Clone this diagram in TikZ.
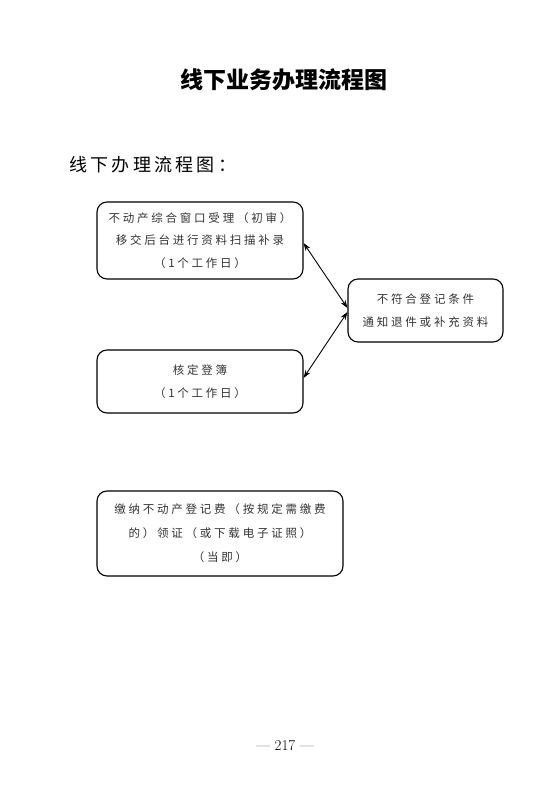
\documentclass[tikz,border=0pt]{standalone}
\usepackage{fontspec}
\usetikzlibrary{arrows.meta,calc}
\newfontfamily\cjktitle{Noto Sans CJK SC}
\newfontfamily\cjksub[LetterSpace=18]{Noto Sans CJK SC}
\newfontfamily\cjkbox[LetterSpace=24]{Noto Sans CJK SC}
\begin{document}
\begin{tikzpicture}[x=1pt,y=1pt,
  flowbox/.style={draw=black, line width=1.1pt, rounded corners=10pt, align=center,
    font=\cjkbox\fontsize{11.5}{22.5}\selectfont, text=black!80, inner sep=0pt},
  biarrow/.style={{Stealth[length=8pt,width=5.5pt]}-{Stealth[length=8pt,width=5.5pt]}, line width=0.9pt}]
\useasboundingbox (0,0) rectangle (559,793);
\fill[white] (0,0) rectangle (559,793);
\node (title) at (284,713) {\cjktitle\bfseries\fontsize{23}{26}\selectfont 线下业务办理流程图};
\node[anchor=west] (sub) at (66,628) {\cjksub\fontsize{18}{20}\selectfont 线下办理流程图：};
\node[flowbox, minimum width=206, minimum height=77] (b1) at (200,552.5)
  {不动产综合窗口受理（初审）\\移交后台进行资料扫描补录\\（1个工作日）};
\node[flowbox, minimum width=155, minimum height=63] (r) at (425.5,482.5)
  {不符合登记条件\\通知退件或补充资料};
\node[flowbox, minimum width=206, minimum height=63] (b2) at (200,411.5)
  {核定登簿\\（1个工作日）};
\node[flowbox, minimum width=246, minimum height=85, font=\cjkbox\fontsize{11.5}{24}\selectfont] (b3) at (220,259.5)
  {缴纳不动产登记费（按规定需缴费\\的）领证（或下载电子证照）\\（当即）};
\coordinate (ru) at ($(r.west)+(0,2.5)$);
\coordinate (rd) at ($(r.west)+(0,-1.5)$);
\coordinate (b1e) at ($(b1.east)+(0,-2.5)$);
\coordinate (b2e) at ($(b2.east)+(0,3.5)$);
\draw[biarrow] (b1e) -- (ru);
\draw[biarrow] (b2e) -- (rd);
\node (pg) at (285,47) {\fontsize{15}{17}\selectfont --- 217 ---};
\end{tikzpicture}
\end{document}
